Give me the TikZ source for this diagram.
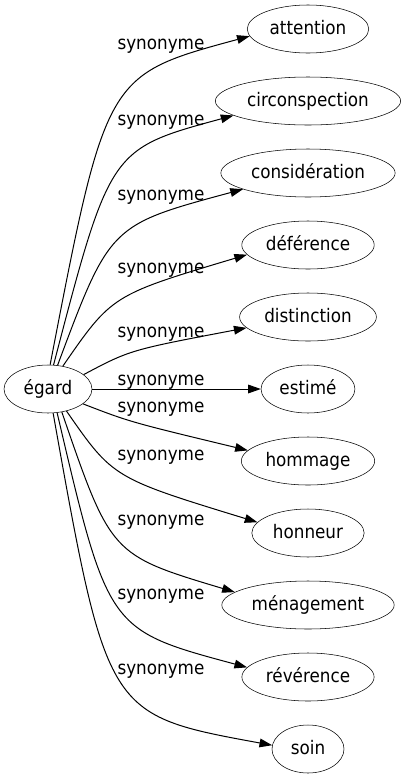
\documentclass[tikz,border=0pt]{standalone}
\usepackage{fontspec}
\setmainfont{DejaVu Sans Condensed}
\usetikzlibrary{arrows.meta,shapes.geometric}

\tikzset{
  word/.style={draw,ellipse,inner xsep=3.5pt,inner ysep=2pt,
    minimum width=54pt,minimum height=36pt,
    text height=11pt,text depth=3.5pt,font=\fontsize{14}{16}\selectfont},
  rel/.style={anchor=base,inner sep=0pt,font=\fontsize{14}{16}\selectfont},
  syn/.style={-{Triangle[length=9.5pt,width=6.5pt]},line width=0.75pt}
}

\begin{document}
\begin{tikzpicture}[x=0.75pt,y=-0.75pt]
\useasboundingbox (0,0) rectangle (403,779);

\node[word,minimum width=66pt] (egard) at (48,389) {égard};

\node[word] (attention) at (308,29) {attention};
\node[word] (circonspection) at (308,101) {circonspection};
\node[word] (consideration) at (308,173) {considération};
\node[word] (deference) at (308,245) {déférence};
\node[word] (distinction) at (308,317) {distinction};
\node[word] (estime) at (308,389) {estimé};
\node[word] (hommage) at (308,461) {hommage};
\node[word] (honneur) at (308,533) {honneur};
\node[word] (menagement) at (308,605) {ménagement};
\node[word] (reverence) at (308,677) {révérence};
\node[word] (soin) at (308,749) {soin};

\node[rel] (lab1) at (161,49) {synonyme};
\node[rel] (lab2) at (161,125) {synonyme};
\node[rel] (lab3) at (161,200) {synonyme};
\node[rel] (lab4) at (161,273) {synonyme};
\node[rel] (lab5) at (161,337) {synonyme};
\node[rel] (lab6) at (161,385) {synonyme};
\node[rel] (lab7) at (161,412) {synonyme};
\node[rel] (lab8) at (161,460) {synonyme};
\node[rel] (lab9) at (161,525) {synonyme};
\node[rel] (lab10) at (161,599) {synonyme};
\node[rel] (lab11) at (161,674) {synonyme};

\draw[syn] (egard.85) .. controls (106,75) .. (attention.187);
\draw[syn] (egard.77) .. controls (110,149) .. (circonspection.191);
\draw[syn] (egard.68) .. controls (110,225) .. (consideration.194);
\draw[syn] (egard.57) .. controls (112,295) .. (deference.189);
\draw[syn] (egard.22) .. controls (130,350) .. (distinction.190);
\draw[syn] (egard.east) -- (estime.west);
\draw[syn] (egard.-23) .. controls (130,422) .. (hommage.170);
\draw[syn] (egard.-50) .. controls (113,478) .. (honneur.168);
\draw[syn] (egard.-59) .. controls (111,555) .. (menagement.170);
\draw[syn] (egard.-69) .. controls (108,630) .. (reverence.171);
\draw[syn] (egard.-78) .. controls (107,715) .. (soin.174);
\end{tikzpicture}
\end{document}
